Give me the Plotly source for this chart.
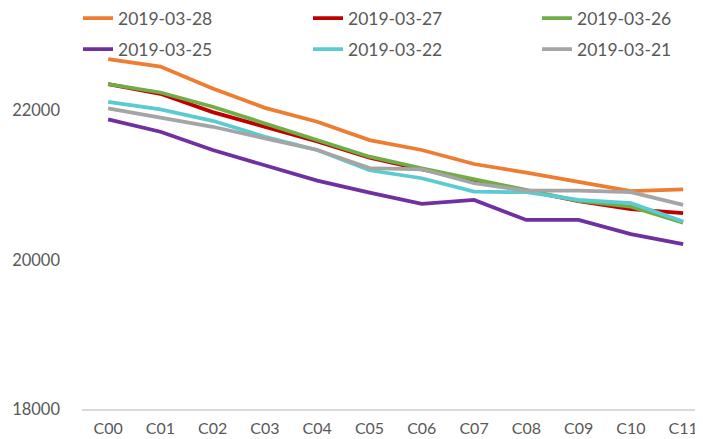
import plotly.graph_objects as go

categories = ["C00", "C01", "C02", "C03", "C04", "C05", "C06", "C07", "C08", "C09", "C10", "C11"]

s_0328 = [22689, 22590, 22297, 22037, 21850, 21605, 21472, 21284, 21168, 21048, 20920, 20945]
s_0327 = [22355, 22225, 21980, 21783, 21585, 21370, 21210, 21070, 20930, 20785, 20678, 20625]
s_0326 = [22355, 22243, 22051, 21829, 21605, 21382, 21227, 21080, 20936, 20789, 20713, 20498]
s_0325 = [21882, 21716, 21472, 21271, 21061, 20900, 20749, 20803, 20535, 20535, 20344, 20210]
s_0322 = [22118, 22017, 21863, 21650, 21472, 21200, 21093, 20914, 20906, 20803, 20759, 20512]
s_0321 = [22029, 21909, 21783, 21628, 21472, 21230, 21213, 21026, 20927, 20927, 20906, 20736]

names = ["2019-03-28", "2019-03-27", "2019-03-26", "2019-03-25", "2019-03-22", "2019-03-21"]
values = [s_0328, s_0327, s_0326, s_0325, s_0322, s_0321]
colors = ["#ED7D31", "#C00000", "#70AD47", "#7030A0", "#5BCBD2", "#A5A5A5"]

font_family = "Century Gothic, Lato, DejaVu Sans, sans-serif"
text_color = "#595959"

# the page body adds an 8px offset; lay the figure out in page pixels minus it
OFF = 8
W, H = 703 - OFF, 439 - OFF
ML, MR, MT, MB = 82 - OFF, 0, 36 - OFF, 30
PW, PH = W - ML - MR, H - MT - MB

# legend layout: text start x (page px) per column, row center y (page px)
col_text_x = [118, 348, 577]
row_y = [18.3, 49.3]

fig = go.Figure()
legends = {}
for i in range(len(names)):
    lg = "legend" if i == 0 else f"legend{i + 1}"
    fig.add_trace(go.Scatter(
        x=categories, y=values[i], mode="lines", name=names[i],
        line=dict(color=colors[i], width=3.75),
        legend=lg,
    ))
    col, row = i % 3, i // 3
    lx = (col_text_x[col] - OFF - 40 - ML) / PW
    ly = (H - MB - (row_y[row] - OFF)) / PH
    legends[lg] = dict(
        orientation="h", xref="paper", yref="paper",
        x=lx, y=ly, xanchor="left", yanchor="middle",
        font=dict(family=font_family, size=17.5, color=text_color),
        bgcolor="rgba(0,0,0,0)",
    )

fig.update_layout(
    width=W, height=H,
    margin=dict(l=ML, r=MR, t=MT, b=MB, autoexpand=False),
    paper_bgcolor="white", plot_bgcolor="white",
    font=dict(family=font_family, color=text_color, size=16),
    showlegend=True,
    xaxis=dict(
        type="category", range=[-0.5, 11.38],
        showgrid=False, showline=True, linecolor="#D9D9D9", linewidth=1.5,
        ticks="", tickfont=dict(size=16, color=text_color),
        ticklabelstandoff=4,
    ),
    yaxis=dict(
        range=[18000, 23000], tickvals=[18000, 20000, 22000], tickformat="d",
        showgrid=False, showline=False, zeroline=False,
        ticks="", tickfont=dict(size=16.5, color=text_color),
        ticklabelstandoff=21,
    ),
    **legends,
)

fig.write_html("out.html")
